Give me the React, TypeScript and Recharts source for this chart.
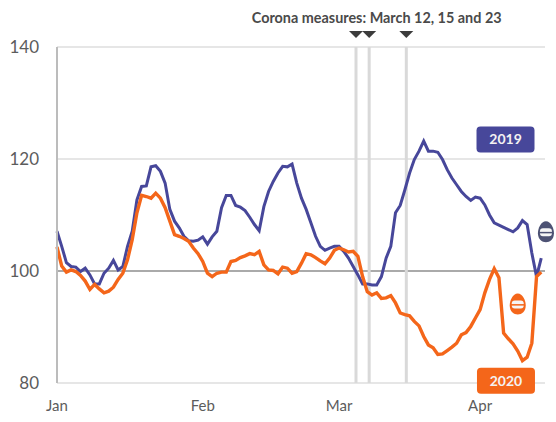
import { CartesianGrid, Line, LineChart, ReferenceDot, ReferenceLine, XAxis, YAxis } from 'recharts';

const index2019 = [
    107.1, 104.4, 101.5, 100.8, 100.7, 99.9, 100.5, 99.3, 97.7, 97.7, 99.6, 100.5, 101.9, 100.2, 100.8, 104.4,
    107.1, 112.7, 115.1, 115.2, 118.6, 118.8, 117.8, 115.7, 111, 108.9, 107.7, 106.2, 105.4, 105.3, 105.5, 106.1,
    104.8, 106.1, 107.1, 111.3, 113.5, 113.5, 111.7, 111.4, 110.8, 109.6, 108.3, 107.2, 111.5, 114.2, 116, 117.5,
    118.7, 118.6, 119.1, 115.7, 113, 111, 108.6, 106.2, 104.4, 103.7, 104.1, 104.4, 104.4, 103.5, 102.3, 100.8,
    99.3, 97.7, 97.7, 97.5, 97.5, 99, 102.3, 104.4, 110.4, 111.7, 114.5, 117.5, 119.9, 121.4, 123.2, 121.4,
    121.4, 121.2, 119.9, 118.1, 116.6, 115.4, 114.2, 113.3, 112.6, 113.2, 113, 111.8, 110, 108.6, 108.2, 107.8,
    107.4, 107, 107.7, 109, 108.3, 103.2, 99, 102.3,
];

const index2020 = [
    104.3, 100.9, 99.8, 100.2, 99.9, 99.2, 98.2, 96.7, 97.6, 96.8, 96.1, 96.4, 97.1, 98.5, 99.6, 102,
    105.6, 110.4, 113.5, 113.3, 113, 113.9, 113, 111.3, 108.9, 106.5, 106.2, 105.8, 105.3, 104.1, 103.1, 101.7,
    99.6, 99, 99.6, 99.8, 99.8, 101.7, 101.9, 102.4, 102.7, 103.1, 102.9, 103.5, 101.1, 100.2, 100.1, 99.5,
    100.7, 100.5, 99.6, 99.9, 101.4, 103.1, 102.9, 102.4, 101.8, 101.3, 102.3, 103.7, 104.1, 103.8, 103.4, 103.5,
    102.6, 99, 96.3, 95.7, 96.1, 95.1, 95.2, 95.6, 94.3, 92.5, 92.2, 92, 91, 90.2, 88.3, 86.8,
    86.3, 85.1, 85.2, 85.8, 86.4, 87.1, 88.6, 89, 90.1, 91.6, 93.1, 96.1, 98.5, 100.4, 98.8, 88.9,
    87.9, 87, 85.7, 84, 84.6, 87.1, 99, 99.8,
];

const monthTicks = [0, 31, 60, 90];
const monthLabels = ['Jan', 'Feb', 'Mar', 'Apr'];
const valueTicks = [80, 100, 120, 140];
const measureDays = [63.6, 66.4, 74.3];

const chartData = index2019.map((value, day) => ({ day, y2019: value, y2020: index2020[day] }));

const FONT = 'Lato, sans-serif';
const BLUE = '#47479a';
const ORANGE = '#f4661a';

const Badge = ({ cx, cy, label, color }: any) => (
    <g>
        <rect x={cx - 29} y={cy - 13} width={58} height={26} rx={4} fill={color} />
        <text x={cx} y={cy + 5} textAnchor="middle" fontFamily={FONT} fontSize={14} fontWeight={700} fill="#f4f2f2">
            {label}
        </text>
    </g>
);

// egg with a white band and a stripe through it
const Egg = ({ cx, cy, color }: any) => (
    <g>
        <path
            d={`M ${cx} ${cy - 11} C ${cx + 5} ${cy - 11} ${cx + 8} ${cy - 4} ${cx + 8} ${cy + 1} C ${cx + 8} ${cy + 7} ${cx + 4} ${cy + 10} ${cx} ${cy + 10} C ${cx - 4} ${cy + 10} ${cx - 8} ${cy + 7} ${cx - 8} ${cy + 1} C ${cx - 8} ${cy - 4} ${cx - 5} ${cy - 11} ${cx} ${cy - 11} Z`}
            fill={color}
        />
        <rect x={cx - 6} y={cy - 4} width={12} height={8} rx={3} fill="#f6f6f6" />
        <rect x={cx - 7} y={cy - 0.5} width={14} height={1.5} fill={color} />
    </g>
);

const Marker = ({ cx, cy }: any) => (
    <path d={`M ${cx - 7} ${cy - 3} L ${cx + 7} ${cy - 3} L ${cx} ${cy + 4} Z`} fill="#3c3c3c" />
);

const Heading = ({ cx, cy }: any) => (
    <text x={cx} y={cy} textAnchor="middle" fontFamily={FONT} fontSize={14.4} fontWeight={700} fill="#4a4a4a">
        Corona measures: March 12, 15 and 23
    </text>
);

const App = () => {
    return (
        <div style={{ position: 'absolute', left: 0, top: 0 }}>
            <LineChart
                width={556}
                height={422}
                data={chartData}
                margin={{ top: 47, right: 11, bottom: 0, left: 0 }}
            >
                <CartesianGrid vertical={false} stroke="#e6e6e6" strokeWidth={2} />
                <XAxis
                    dataKey="day"
                    type="number"
                    domain={[0, 103.8]}
                    ticks={monthTicks}
                    tickFormatter={(day: number) => monthLabels[monthTicks.indexOf(day)]}
                    axisLine={false}
                    tickLine={false}
                    height={39}
                    tickMargin={11}
                    tick={{ fontFamily: FONT, fontSize: 15, fill: '#5c5c5c' }}
                />
                <YAxis
                    domain={[80, 140]}
                    ticks={valueTicks}
                    width={57}
                    axisLine={{ stroke: '#bcbcbc', strokeWidth: 2 }}
                    tickLine={false}
                    tickMargin={12}
                    tick={{ fontFamily: FONT, fontSize: 17, fill: '#5c5c5c' }}
                />
                <ReferenceLine y={100} stroke="#aaaaaa" strokeWidth={2} />
                {measureDays.map((day) => (
                    <ReferenceLine key={day} x={day} stroke="#d9d9d9" strokeWidth={3} />
                ))}
                <Line
                    dataKey="y2019"
                    stroke={BLUE}
                    strokeWidth={3}
                    dot={false}
                    type="linear"
                    isAnimationActive={false}
                />
                <Line
                    dataKey="y2020"
                    stroke={ORANGE}
                    strokeWidth={3.4}
                    dot={false}
                    type="linear"
                    isAnimationActive={false}
                />
                {measureDays.map((day) => (
                    <ReferenceDot key={day} x={day} y={142.3} ifOverflow="visible" shape={Marker} />
                ))}
                <ReferenceDot x={68} y={144.3} ifOverflow="visible" shape={Heading} />
                <ReferenceDot
                    x={95.4}
                    y={123.5}
                    ifOverflow="visible"
                    shape={(props: any) => <Badge {...props} label="2019" color={BLUE} />}
                />
                <ReferenceDot
                    x={95.5}
                    y={80.4}
                    ifOverflow="visible"
                    shape={(props: any) => <Badge {...props} label="2020" color={ORANGE} />}
                />
                <ReferenceDot
                    x={104}
                    y={106.9}
                    ifOverflow="visible"
                    shape={(props: any) => <Egg {...props} color="#4d5274" />}
                />
                <ReferenceDot
                    x={98}
                    y={94}
                    ifOverflow="visible"
                    shape={(props: any) => <Egg {...props} color={ORANGE} />}
                />
            </LineChart>
        </div>
    );
};

export default App;
